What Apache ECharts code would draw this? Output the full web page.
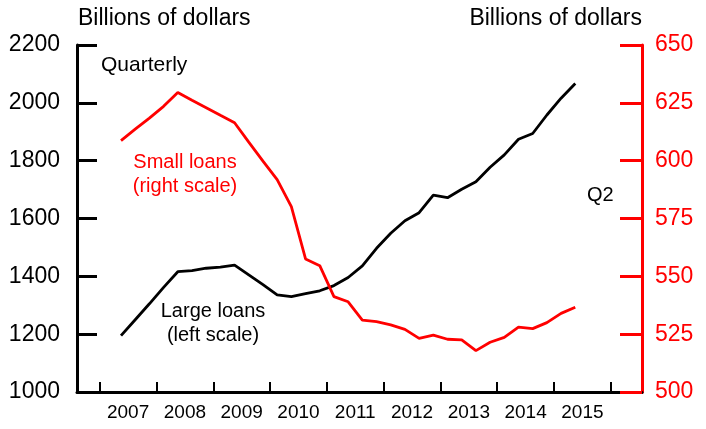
<!DOCTYPE html>
<html>
<head>
<meta charset="utf-8">
<script src="https://cdn.jsdelivr.net/npm/echarts@6/dist/echarts.min.js"></script>
<style>
  html, body { margin: 0; padding: 0; background: #fff; }
  #chart { width: 706px; height: 429px; }
</style>
</head>
<body>
<div id="chart"></div>
<script>
// Quarterly observations, 2007:Q2 through 2015:Q2
const quarters = [
  '2007Q2','2007Q3','2007Q4',
  '2008Q1','2008Q2','2008Q3','2008Q4',
  '2009Q1','2009Q2','2009Q3','2009Q4',
  '2010Q1','2010Q2','2010Q3','2010Q4',
  '2011Q1','2011Q2','2011Q3','2011Q4',
  '2012Q1','2012Q2','2012Q3','2012Q4',
  '2013Q1','2013Q2','2013Q3','2013Q4',
  '2014Q1','2014Q2','2014Q3','2014Q4',
  '2015Q1','2015Q2'
];

// Large loans, billions of dollars (left scale)
const largeLoans = [
  1195, 1250, 1305,
  1362, 1416, 1420, 1428,
  1432, 1439, 1405, 1371,
  1336, 1330, 1340, 1350,
  1368, 1396, 1436, 1497,
  1549, 1592, 1620, 1681,
  1672, 1701, 1727, 1777,
  1820, 1874, 1894, 1958,
  2016, 2067
];

// Small loans, billions of dollars (right scale)
const smallLoans = [
  608.7, 613.6, 618.4,
  623.5, 629.5, 626.1, 622.9,
  619.6, 616.4, 608.0, 599.8,
  591.8, 580.1, 557.5, 554.6,
  541.2, 539.0, 531.1, 530.4,
  529.0, 527.1, 523.2, 524.6,
  522.8, 522.5, 517.9, 521.5,
  523.6, 528.0, 527.4, 530.0,
  534.0, 536.6
];

const yearTicks = [2007, 2008, 2009, 2010, 2011, 2012, 2013, 2014, 2015, 2016];
const yearLabels = [2007, 2008, 2009, 2010, 2011, 2012, 2013, 2014, 2015];

// Place each quarter at the middle of its span within the year
function quarterPos(q) {
  const y = parseInt(q.slice(0, 4), 10);
  const n = parseInt(q.slice(5), 10);
  return y + (n - 0.5) / 4;
}

const FONT = '"Liberation Sans", Arial, Helvetica, sans-serif';
const RED = '#ff0000';
const BLACK = '#000000';

const chart = echarts.init(document.getElementById('chart'), null, { renderer: 'canvas' });

chart.setOption({
  animation: false,
  backgroundColor: '#ffffff',
  grid: { left: 77, right: 64, top: 45, bottom: 37, containLabel: false },
  xAxis: {
    type: 'value',
    min: 2006.6,
    max: 2016.55,
    splitLine: { show: false },
    axisLine: { show: true, lineStyle: { color: BLACK, width: 3 } },
    axisTick: {
      show: true, inside: true, length: 10,
      customValues: yearTicks,
      lineStyle: { color: BLACK, width: 2 }
    },
    axisLabel: {
      show: true, margin: 11,
      customValues: yearLabels.map(function (y) { return y + 0.5; }),
      formatter: function (v) { return String(Math.floor(v)); },
      color: BLACK, fontSize: 19, fontFamily: FONT
    }
  },
  yAxis: [
    {
      type: 'value', position: 'left',
      min: 1000, max: 2200, interval: 200,
      splitLine: { show: false },
      axisLine: { show: true, lineStyle: { color: BLACK, width: 3 } },
      axisTick: { show: true, inside: true, length: 20, lineStyle: { color: BLACK, width: 3 } },
      axisLabel: {
        color: BLACK, fontSize: 23, fontFamily: FONT, margin: 17,
        formatter: function (v) { return String(v); }
      }
    },
    {
      type: 'value', position: 'right',
      min: 500, max: 650, interval: 25,
      splitLine: { show: false },
      axisLine: { show: true, lineStyle: { color: RED, width: 3 } },
      axisTick: { show: true, inside: true, length: 22, lineStyle: { color: RED, width: 3 } },
      axisLabel: {
        color: RED, fontSize: 23, fontFamily: FONT, margin: 13,
        formatter: function (v) { return String(v); }
      }
    }
  ],
  series: [
    {
      name: 'Large loans', type: 'line', yAxisIndex: 0,
      showSymbol: false, silent: true,
      lineStyle: { color: BLACK, width: 2.8 },
      data: quarters.map(function (q, i) { return [quarterPos(q), largeLoans[i]]; })
    },
    {
      name: 'Small loans', type: 'line', yAxisIndex: 1,
      showSymbol: false, silent: true,
      lineStyle: { color: RED, width: 2.8 },
      data: quarters.map(function (q, i) { return [quarterPos(q), smallLoans[i]]; })
    }
  ],
  graphic: [
    { type: 'text', left: 78, top: 7,
      style: { text: 'Billions of dollars', font: '23px ' + FONT, fill: BLACK } },
    { type: 'text', right: 64, top: 7,
      style: { text: 'Billions of dollars', font: '23px ' + FONT, fill: BLACK } },
    { type: 'text', left: 101, top: 55,
      style: { text: 'Quarterly', font: '21px ' + FONT, fill: BLACK } },
    { type: 'text', x: 185, y: 150,
      style: { text: 'Small loans\n(right scale)', font: '20px ' + FONT, fill: RED,
               textAlign: 'center', lineHeight: 24 } },
    { type: 'text', x: 213, y: 299,
      style: { text: 'Large loans\n(left scale)', font: '20px ' + FONT, fill: BLACK,
               textAlign: 'center', lineHeight: 24 } },
    { type: 'text', left: 587, top: 185,
      style: { text: 'Q2', font: '20px ' + FONT, fill: BLACK } }
  ]
});
</script>
</body>
</html>
